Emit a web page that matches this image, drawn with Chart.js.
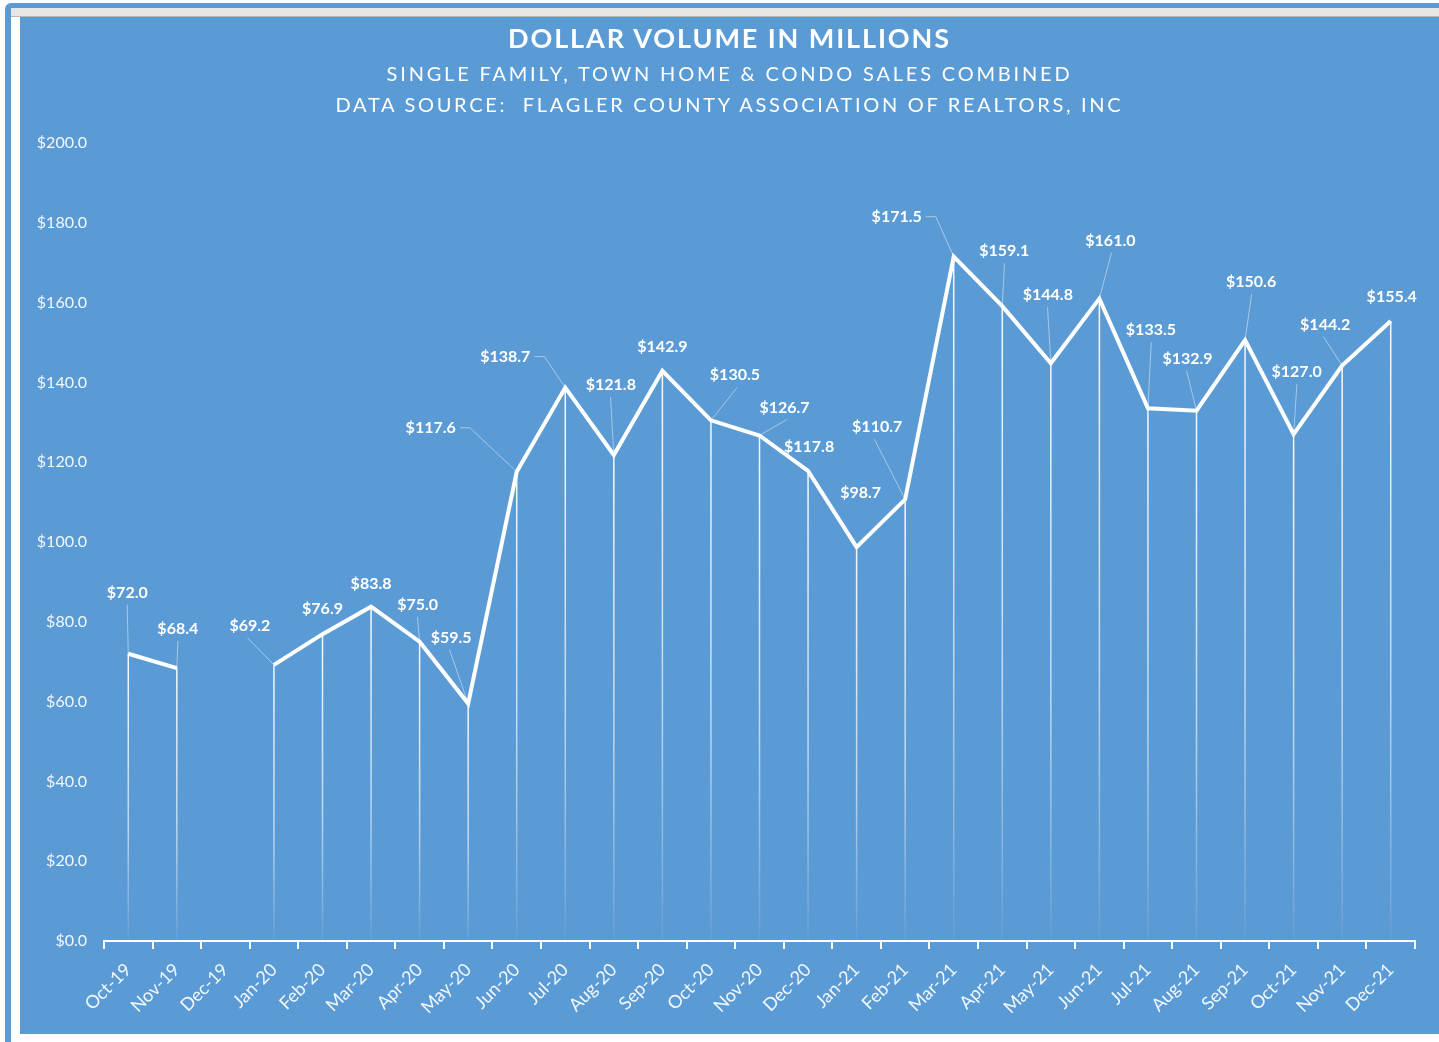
<!DOCTYPE html>
<html>
<head>
<meta charset="utf-8">
<script src="https://cdn.jsdelivr.net/npm/chart.js@4"></script>
<style>
  body { margin: 0; background: #fff; width: 1439px; height: 1042px; overflow: hidden; position: relative; font-family: Lato, "Open Sans", sans-serif; }
  #frame { position: absolute; left: 5px; top: 3px; width: 1440px; height: 1045px; background: #5b9bd5; border-top-left-radius: 6px; }
  #bar { position: absolute; left: 11px; top: 8px; width: 1430px; height: 8px; background: #e6e6e6; border-bottom: 1px solid #b8b8b8; }
  #strip { position: absolute; left: 11px; top: 17px; width: 9px; height: 1017px; background: #fff; }
  #under { position: absolute; left: 11px; top: 1034px; width: 1430px; height: 10px; background: #fff; }
  #box { position: absolute; left: 20px; top: 17px; width: 1419px; height: 1017px; background: #5b9bd5; }
  .t { position: absolute; left: 0; width: 1419px; text-align: center; color: #fff; white-space: nowrap; }
  #t1 { top: 4px; font-size: 27px; font-weight: bold; letter-spacing: 1.9px; }
  #t2 { top: 44px; font-size: 20px; letter-spacing: 2.8px; }
  #t3 { top: 75px; font-size: 20px; letter-spacing: 2.7px; }
  canvas { position: absolute; left: 0; top: 0; }
</style>
</head>
<body>
<div id="frame"></div>
<div id="bar"></div>
<div id="strip"></div>
<div id="under"></div>
<div id="box">
  <canvas id="volChart" width="1419" height="1017"></canvas>
  <div class="t" id="t1">DOLLAR VOLUME IN MILLIONS</div>
  <div class="t" id="t2">SINGLE FAMILY, TOWN HOME &amp; CONDO SALES COMBINED</div>
  <div class="t" id="t3">DATA SOURCE:&nbsp; FLAGLER COUNTY ASSOCIATION OF REALTORS, INC</div>
</div>
<script>
const months = ['Oct-19', 'Nov-19', 'Dec-19', 'Jan-20', 'Feb-20', 'Mar-20', 'Apr-20', 'May-20', 'Jun-20',
  'Jul-20', 'Aug-20', 'Sep-20', 'Oct-20', 'Nov-20', 'Dec-20', 'Jan-21', 'Feb-21', 'Mar-21', 'Apr-21',
  'May-21', 'Jun-21', 'Jul-21', 'Aug-21', 'Sep-21', 'Oct-21', 'Nov-21', 'Dec-21'];
const volume = [72.0, 68.4, null, 69.2, 76.9, 83.8, 75.0, 59.5, 117.6,
  138.7, 121.8, 142.9, 130.5, 126.7, 117.8, 98.7, 110.7, 171.5, 159.1,
  144.8, 161.0, 133.5, 132.9, 150.6, 127.0, 144.2, 155.4];
const yTicks = [0, 20, 40, 60, 80, 100, 120, 140, 160, 180, 200];

// label placement relative to the point: [dx, dy], leader line or not
const labelPlace = [[-1, -61, 1], [1, -39, 1], null, [-24, -39, 1], [0, -25, 0], [0, -23, 0], [-2, -37, 1],
  [-17, -66, 1], [-86, -44, 1], [-60, -31, 1], [-3, -70, 1], [0, -24, 0], [24, -45, 1], [25, -28, 1],
  [1, -24, 0], [4, -54, 0], [-28, -72, 1], [-57, -40, 1], [2, -55, 1], [-3, -68, 1], [11, -58, 1],
  [3, -78, 1], [-9, -52, 1], [6, -58, 1], [3, -62, 1], [-17, -41, 1], [1, -24, 0]];

const fmt = v => '$' + v.toFixed(1);

const dropLines = {
  id: 'dropLines',
  beforeDatasetsDraw(chart) {
    const { ctx, scales: { x, y } } = chart;
    const base = y.getPixelForValue(0);
    ctx.save();
    volume.forEach((v, i) => {
      if (v == null) return;
      const px = x.getPixelForValue(i);
      const py = y.getPixelForValue(v);
      const g = ctx.createLinearGradient(0, py, 0, base);
      g.addColorStop(0, 'rgba(255,255,255,0.95)');
      g.addColorStop(0.6, 'rgba(255,255,255,0.6)');
      g.addColorStop(1, 'rgba(255,255,255,0.05)');
      ctx.strokeStyle = g;
      ctx.lineWidth = 1.5;
      ctx.beginPath();
      ctx.moveTo(px, py);
      ctx.lineTo(px, base);
      ctx.stroke();
    });
    ctx.restore();
  }
};

const valueLabels = {
  id: 'valueLabels',
  afterDatasetsDraw(chart) {
    const { ctx, scales: { x, y } } = chart;
    ctx.save();
    ctx.font = 'bold 16px Lato, "Open Sans", sans-serif';
    ctx.textAlign = 'center';
    ctx.textBaseline = 'middle';
    volume.forEach((v, i) => {
      if (v == null) return;
      const p = labelPlace[i];
      const px = x.getPixelForValue(i);
      const py = y.getPixelForValue(v);
      const lx = px + p[0], ly = py + p[1];
      const txt = fmt(v);
      const w = ctx.measureText(txt).width;
      if (p[2]) {
        ctx.strokeStyle = 'rgba(255,255,255,0.45)';
        ctx.lineWidth = 1;
        ctx.beginPath();
        if (p[0] < -40) {
          const sx = lx + w / 2 + 4;
          ctx.moveTo(sx, ly);
          ctx.lineTo(sx + 10, ly);
          ctx.lineTo(px, py);
        } else {
          ctx.moveTo(lx + p[0] * 0.1, ly + 12);
          ctx.lineTo(px, py);
        }
        ctx.stroke();
      }
      ctx.fillStyle = '#ffffff';
      ctx.fillText(txt, lx, ly);
    });
    ctx.restore();
  }
};

new Chart(document.getElementById('volChart').getContext('2d'), {
  type: 'line',
  data: {
    labels: months,
    datasets: [{
      data: volume,
      borderColor: '#ffffff',
      borderWidth: 4,
      pointRadius: 0,
      tension: 0,
      spanGaps: false,
      fill: false
    }]
  },
  options: {
    responsive: false,
    animation: false,
    layout: { padding: { top: 126, right: 24, left: 0, bottom: 0 } },
    plugins: { legend: { display: false }, tooltip: { enabled: false } },
    scales: {
      x: {
        offset: true,
        grid: { offset: true, drawOnChartArea: false, color: '#ffffff', lineWidth: 2, tickLength: 8 },
        border: { color: '#ffffff', width: 2 },
        ticks: {
          color: 'rgba(255,255,255,0.92)',
          font: { family: 'Lato, "Open Sans", sans-serif', size: 18 },
          minRotation: 45, maxRotation: 45, autoSkip: false, padding: 10
        },
        afterFit(scale) { scale.height = 93; }
      },
      y: {
        min: 0, max: 200,
        afterBuildTicks(scale) { scale.ticks = yTicks.map(v => ({ value: v })); },
        grid: { display: false, drawTicks: false },
        border: { display: false },
        ticks: {
          color: 'rgba(255,255,255,0.92)',
          font: { family: 'Lato, "Open Sans", sans-serif', size: 16 },
          padding: 17,
          callback: v => fmt(v)
        },
        afterFit(scale) { scale.width = 84; }
      }
    }
  },
  plugins: [dropLines, valueLabels]
});
</script>
</body>
</html>
